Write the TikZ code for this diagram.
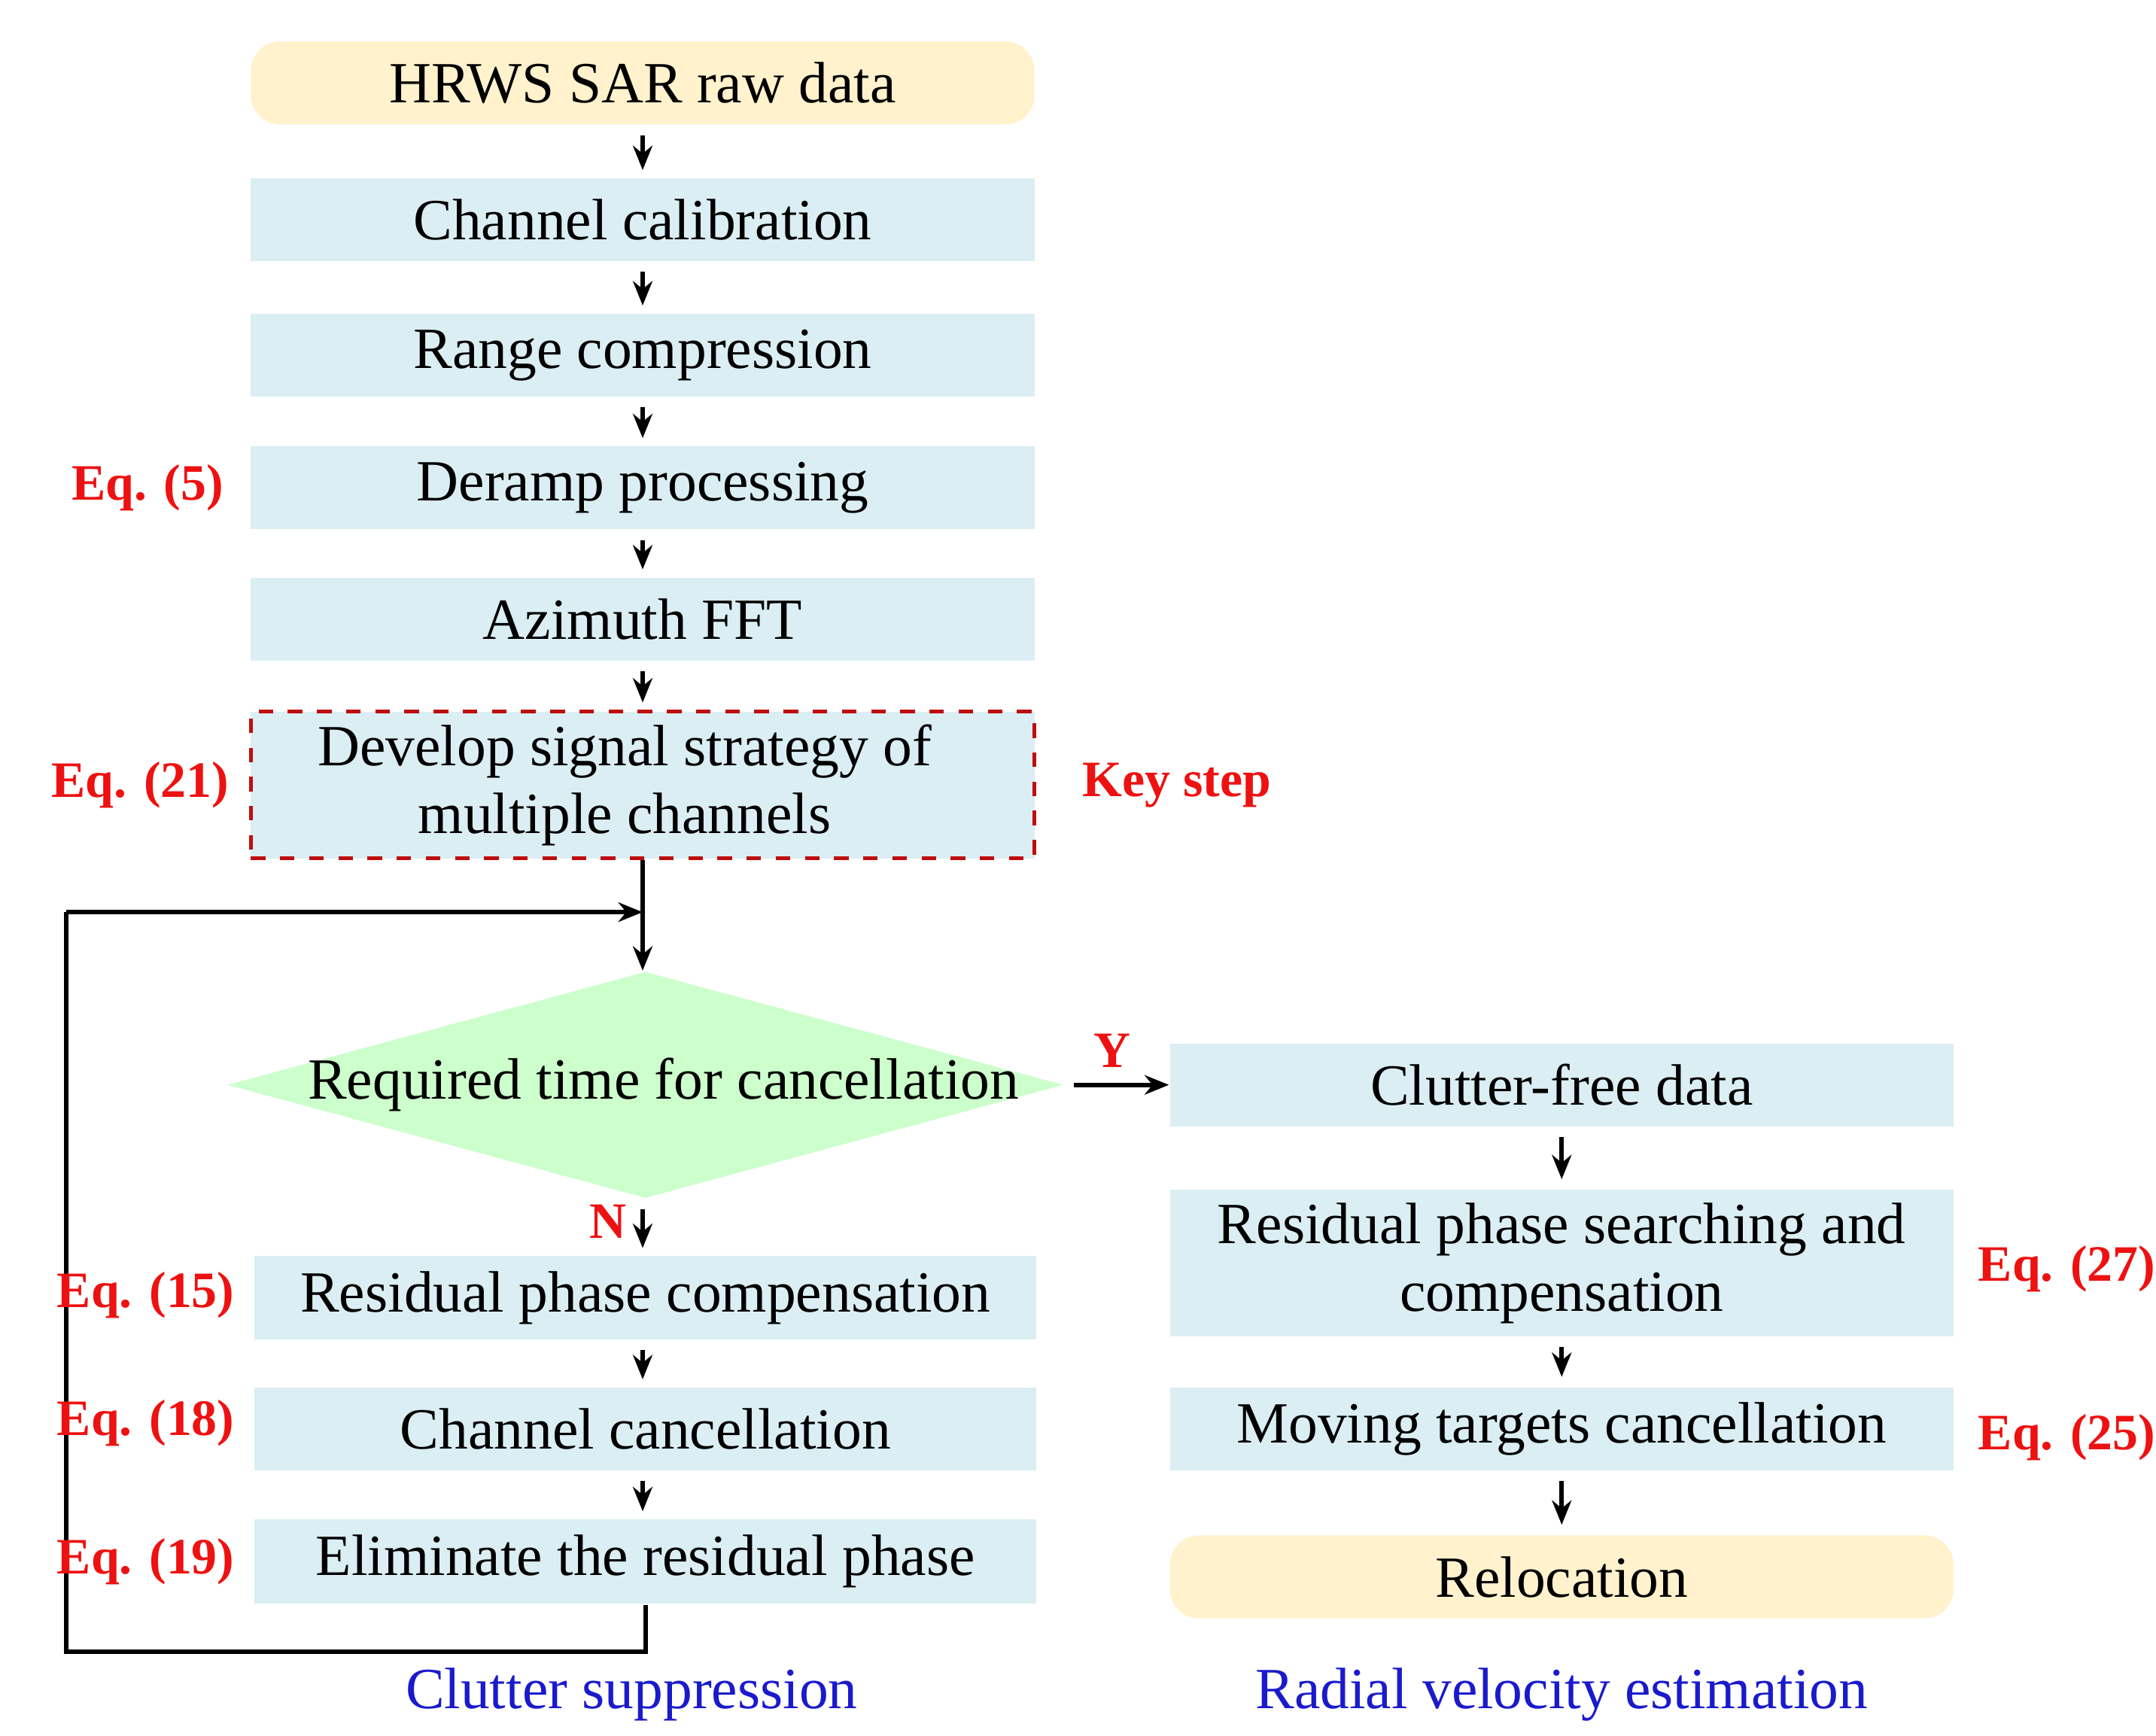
\documentclass[tikz,border=0pt]{standalone}
\usepackage{fontspec}
\setmainfont{Liberation Serif}
\usetikzlibrary{shapes.geometric,arrows.meta}
\definecolor{boxblue}{HTML}{DAEEF3}
\definecolor{boxyel}{HTML}{FFF2CC}
\definecolor{dgreen}{HTML}{CCFFCC}
\definecolor{eqred}{HTML}{EE1111}
\definecolor{lblue}{HTML}{1A1ACC}
\begin{document}
\begin{tikzpicture}[x=0.01cm,y=-0.01cm,
  txt/.style={font=\fontsize{12}{14}\selectfont},
  stepbox/.style={txt,fill=boxblue,inner sep=0pt,align=center},
  yelbox/.style={txt,fill=boxyel,rounded corners=6pt,inner sep=0pt,align=center},
  eq/.style={font=\fontsize{10.5}{12}\selectfont\bfseries,text=eqred},
  captext/.style={font=\fontsize{12}{14}\selectfont,text=lblue},
  arr/.style={-{Stealth[length=5pt,width=4pt]},line width=0.9pt},
  ln/.style={line width=0.9pt}]
\useasboundingbox (0,0) rectangle (1560,1256);
\node[yelbox,minimum width=567*0.01cm,minimum height=60*0.01cm] (a) at (465,60) {HRWS SAR raw data};
\node[stepbox,minimum width=567*0.01cm,minimum height=60*0.01cm] (b) at (465,159) {Channel calibration};
\node[stepbox,minimum width=567*0.01cm,minimum height=60*0.01cm] (c) at (465,257) {Range compression};
\node[stepbox,minimum width=567*0.01cm,minimum height=60*0.01cm] (d) at (465,353) {Deramp processing};
\node[stepbox,minimum width=567*0.01cm,minimum height=60*0.01cm] (e) at (465,448) {Azimuth FFT};
\node[stepbox,minimum width=567*0.01cm,minimum height=106*0.01cm,draw=eqred!80!black,dashed,line width=0.8pt] (f) at (465,568) {};
\node[txt,align=center] at (452,568) {Develop signal strategy of\\multiple channels};
\node[diamond,aspect=3.7,fill=dgreen,minimum width=605*0.01cm,minimum height=164*0.01cm,inner sep=0pt] (g) at (467,785) {};
\node[txt] at (480,785) {Required time for cancellation};
\node[stepbox,minimum width=566*0.01cm,minimum height=60*0.01cm] (h) at (467,939) {Residual phase compensation};
\node[stepbox,minimum width=566*0.01cm,minimum height=60*0.01cm] (i) at (467,1034) {Channel cancellation};
\node[stepbox,minimum width=566*0.01cm,minimum height=61*0.01cm] (j) at (467,1130) {Eliminate the residual phase};
\node[stepbox,minimum width=567*0.01cm,minimum height=60*0.01cm] (k) at (1130,785) {Clutter-free data};
\node[stepbox,minimum width=567*0.01cm,minimum height=106*0.01cm] (l) at (1130,914) {Residual phase searching and\\compensation};
\node[stepbox,minimum width=567*0.01cm,minimum height=60*0.01cm] (m) at (1130,1034) {Moving targets cancellation};
\node[yelbox,minimum width=567*0.01cm,minimum height=60*0.01cm] (n) at (1130,1141) {Relocation};
\foreach \u/\v in {a/b,b/c,c/d,d/e,e/f,h/i,i/j}{
  \draw[arr,shorten <=2pt,shorten >=1.5pt] (\u.south -| 465,0) -- (\v.north -| 465,0);}
\draw[arr] (f.south -| 465,0) -- (g.north -| 465,0);
\draw[arr,shorten <=2pt,shorten >=1.5pt] (g.south -| 465,0) -- (h.north -| 465,0);
\foreach \u/\v in {k/l,l/m,m/n}{
  \draw[arr,shorten <=2pt,shorten >=2pt] (\u.south) -- (\v.north);}
\draw[arr] (777,785) -- (k.west);
\coordinate (fb1) at (467,1195);
\coordinate (fb2) at (48,1195);
\coordinate (fb3) at (48,660);
\coordinate (fb4) at (465,660);
\draw[ln] (j.south) -- (fb1) -- (fb2) -- (fb3);
\draw[arr] (fb3) -- (fb4);
\node[eq] at (805,760) {Y};
\node[eq] at (440,884) {N};
\node[eq,anchor=east] at (174,353) {Eq. (5)};
\node[eq,anchor=east] at (178,568) {Eq. (21)};
\node[eq,anchor=west] at (771,568) {Key step};
\node[eq,anchor=east] at (182,937) {Eq. (15)};
\node[eq,anchor=east] at (182,1030) {Eq. (18)};
\node[eq,anchor=east] at (182,1130) {Eq. (19)};
\node[eq,anchor=west] at (1419,918) {Eq. (27)};
\node[eq,anchor=west] at (1419,1040) {Eq. (25)};
\node[captext] at (457,1226) {Clutter suppression};
\node[captext] at (1130,1226) {Radial velocity estimation};
\end{tikzpicture}
\end{document}
